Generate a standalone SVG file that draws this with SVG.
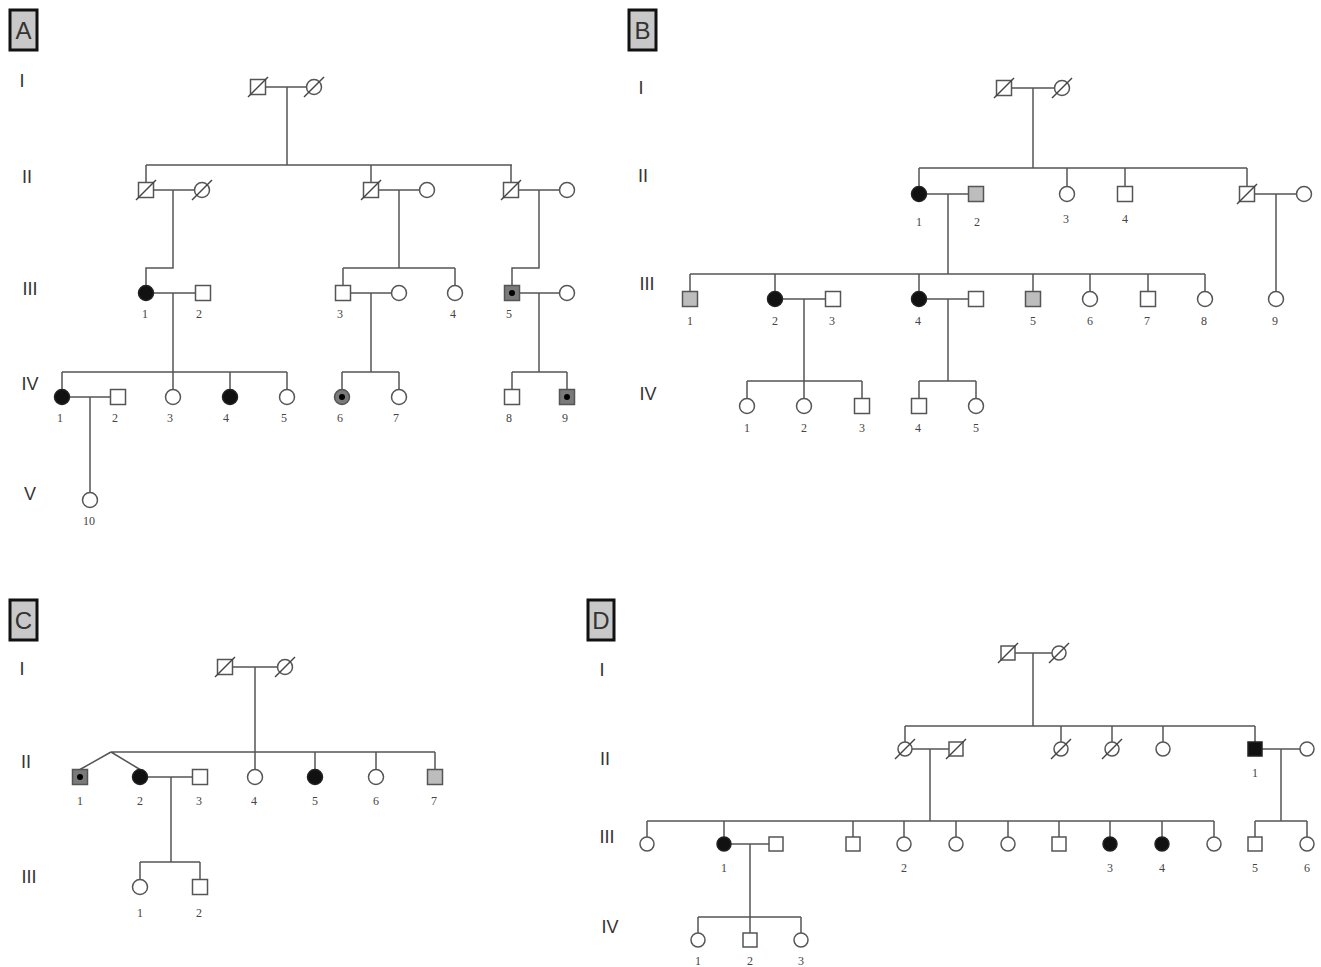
<svg xmlns="http://www.w3.org/2000/svg" width="1321" height="967" viewBox="0 0 1321 967">
<style>
.ln{stroke:#555;stroke-width:1.5;fill:none}
.s{fill:#fff;stroke:#555;stroke-width:1.5}
.aff{fill:#111;stroke:#222}
.car{fill:#bdbdbd}
.dk{fill:#7a7a7a}
.dot{fill:#000}
.dec{stroke:#444;stroke-width:1.4}
.num{font-family:"Liberation Serif",serif;font-size:12px;fill:#444;text-anchor:middle}
.gen{font-family:"Liberation Sans",sans-serif;font-size:18px;fill:#333;text-anchor:middle}
.box{fill:#c8c8c8;stroke:#111;stroke-width:3}
.let{font-family:"Liberation Sans",sans-serif;font-size:24px;fill:#333;text-anchor:middle}
</style>
<rect width="1321" height="967" fill="#fff"/>

<g id="connectors">
<!-- Panel A -->
<path class="ln" d="M266,87H306 M287,87V165 M146,165H512 M146,165V182.5 M371,165V182.5 M511,165V182.5"/>
<path class="ln" d="M153.5,190H194.5 M173,190V268H146V285.5"/>
<path class="ln" d="M378.5,190H419.5 M399,190V268 M343,268H455 M343,268V285.5 M455,268V285.5"/>
<path class="ln" d="M518.5,190H559.5 M539,190V268H512V285.5"/>
<path class="ln" d="M153.5,293H195.5 M173,293V389.5 M62,372H287 M62,372V389.5 M230,372V389.5 M287,372V389.5"/>
<path class="ln" d="M350.5,293H391.5 M371,293V372 M342,372H399 M342,372V389.5 M399,372V389.5"/>
<path class="ln" d="M519.5,293H559.5 M539,293V372 M512,372H567 M512,372V389.5 M567,372V389.5"/>
<path class="ln" d="M69.5,397H110.5 M90,397V492.5"/>
<!-- Panel B -->
<path class="ln" d="M1011.5,88H1054.5 M1033,88V168 M919,168H1247 M919,168V186.5 M1067,168V186.5 M1125,168V186.5 M1247,168V186.5"/>
<path class="ln" d="M926.5,194H968.5 M948,194V274 M690,274H1205 M690,274V291.5 M775,274V291.5 M919,274V291.5 M1033,274V291.5 M1090,274V291.5 M1148,274V291.5 M1205,274V291.5"/>
<path class="ln" d="M1254.5,194H1296.5 M1276,194V291.5"/>
<path class="ln" d="M782.5,299H825.5 M804,299V398.5 M747,381H862 M747,381V398.5 M862,381V398.5"/>
<path class="ln" d="M926.5,299H968.5 M948,299V381 M919,381H976 M919,381V398.5 M976,381V398.5"/>
<!-- Panel C -->
<path class="ln" d="M232.5,667H277.5 M255,667V769.5 M111,752H435 M315,752V769.5 M376,752V769.5 M435,752V769.5 M111,752L80,769.5 M111,752L140,769.5"/>
<path class="ln" d="M147.5,777H192.5 M171,777V862 M140,862H200 M140,862V879.5 M200,862V879.5"/>
<!-- Panel D -->
<path class="ln" d="M1015,653H1052 M1033,653V726 M905,726H1255 M905,726V742 M1061,726V742 M1112,726V742 M1163,726V742 M1255,726V742"/>
<path class="ln" d="M912,749H949 M930,749V821 M647,821H1214 M647,821V837 M724,821V837 M853,821V837 M904,821V837 M956,821V837 M1008,821V837 M1059,821V837 M1110,821V837 M1162,821V837 M1214,821V837"/>
<path class="ln" d="M1262,749H1300 M1281,749V821 M1255,821H1307 M1255,821V837 M1307,821V837"/>
<path class="ln" d="M731,844H769 M750,844V933 M698,917H801 M698,917V933 M801,917V933"/>
</g>

<!-- Panel labels and generations -->
<g id="labels">
<rect class="box" x="10" y="10" width="27" height="40"/><text class="let" x="23.5" y="39">A</text>
<rect class="box" x="629" y="10" width="27" height="40"/><text class="let" x="642.5" y="39">B</text>
<rect class="box" x="10" y="600" width="27" height="40"/><text class="let" x="23.5" y="629">C</text>
<rect class="box" x="588" y="600" width="26" height="40"/><text class="let" x="601" y="629">D</text>
<text class="gen" x="22" y="87">I</text><text class="gen" x="27" y="183">II</text><text class="gen" x="30" y="295">III</text><text class="gen" x="30" y="390">IV</text><text class="gen" x="30" y="500">V</text>
<text class="gen" x="641" y="94">I</text><text class="gen" x="643" y="182">II</text><text class="gen" x="647" y="290">III</text><text class="gen" x="648" y="400">IV</text>
<text class="gen" x="22" y="675">I</text><text class="gen" x="26" y="768">II</text><text class="gen" x="29" y="883">III</text>
<text class="gen" x="602" y="676">I</text><text class="gen" x="605" y="765">II</text><text class="gen" x="607" y="843">III</text><text class="gen" x="610" y="933">IV</text>
</g>

<!-- Panel A nodes -->
<g id="A-I-1"><rect class="s" x="250.5" y="79.5" width="15" height="15"/><line class="dec" x1="248" y1="97" x2="268" y2="77"/></g>
<g id="A-I-2"><circle class="s" cx="314" cy="87" r="7.5"/><line class="dec" x1="304" y1="97" x2="324" y2="77"/></g>
<g id="A-II-1"><rect class="s" x="138.5" y="182.5" width="15" height="15"/><line class="dec" x1="136" y1="200" x2="156" y2="180"/></g>
<g id="A-II-1w"><circle class="s" cx="202" cy="190" r="7.5"/><line class="dec" x1="192" y1="200" x2="212" y2="180"/></g>
<g id="A-II-2"><rect class="s" x="363.5" y="182.5" width="15" height="15"/><line class="dec" x1="361" y1="200" x2="381" y2="180"/></g>
<g id="A-II-2w"><circle class="s" cx="427" cy="190" r="7.5"/></g>
<g id="A-II-3"><rect class="s" x="503.5" y="182.5" width="15" height="15"/><line class="dec" x1="501" y1="200" x2="521" y2="180"/></g>
<g id="A-II-3w"><circle class="s" cx="567" cy="190" r="7.5"/></g>
<g id="A-III-1"><circle class="s aff" cx="146" cy="293" r="7.5"/><text class="num" x="145" y="318">1</text></g>
<g id="A-III-2"><rect class="s" x="195.5" y="285.5" width="15" height="15"/><text class="num" x="199" y="318">2</text></g>
<g id="A-III-3"><rect class="s" x="335.5" y="285.5" width="15" height="15"/><text class="num" x="340" y="318">3</text></g>
<g id="A-III-3w"><circle class="s" cx="399" cy="293" r="7.5"/></g>
<g id="A-III-4"><circle class="s" cx="455" cy="293" r="7.5"/><text class="num" x="453" y="318">4</text></g>
<g id="A-III-5"><rect class="s dk" x="504.5" y="285.5" width="15" height="15"/><circle class="dot" cx="512" cy="293" r="3"/><text class="num" x="509" y="318">5</text></g>
<g id="A-III-5w"><circle class="s" cx="567" cy="293" r="7.5"/></g>
<g id="A-IV-1"><circle class="s aff" cx="62" cy="397" r="7.5"/><text class="num" x="60" y="422">1</text></g>
<g id="A-IV-2"><rect class="s" x="110.5" y="389.5" width="15" height="15"/><text class="num" x="115" y="422">2</text></g>
<g id="A-IV-3"><circle class="s" cx="173" cy="397" r="7.5"/><text class="num" x="170" y="422">3</text></g>
<g id="A-IV-4"><circle class="s aff" cx="230" cy="397" r="7.5"/><text class="num" x="226" y="422">4</text></g>
<g id="A-IV-5"><circle class="s" cx="287" cy="397" r="7.5"/><text class="num" x="284" y="422">5</text></g>
<g id="A-IV-6"><circle class="s dk" cx="342" cy="397" r="7.5"/><circle class="dot" cx="342" cy="397" r="3"/><text class="num" x="340" y="422">6</text></g>
<g id="A-IV-7"><circle class="s" cx="399" cy="397" r="7.5"/><text class="num" x="396" y="422">7</text></g>
<g id="A-IV-8"><rect class="s" x="504.5" y="389.5" width="15" height="15"/><text class="num" x="509" y="422">8</text></g>
<g id="A-IV-9"><rect class="s dk" x="559.5" y="389.5" width="15" height="15"/><circle class="dot" cx="567" cy="397" r="3"/><text class="num" x="565" y="422">9</text></g>
<g id="A-V-10"><circle class="s" cx="90" cy="500" r="7.5"/><text class="num" x="89" y="525">10</text></g>

<!-- Panel B nodes -->
<g id="B-I-1"><rect class="s" x="996.5" y="80.5" width="15" height="15"/><line class="dec" x1="994" y1="98" x2="1014" y2="78"/></g>
<g id="B-I-2"><circle class="s" cx="1062" cy="88" r="7.5"/><line class="dec" x1="1052" y1="98" x2="1072" y2="78"/></g>
<g id="B-II-1"><circle class="s aff" cx="919" cy="194" r="7.5"/><text class="num" x="919" y="226">1</text></g>
<g id="B-II-2"><rect class="s car" x="968.5" y="186.5" width="15" height="15"/><text class="num" x="977" y="226">2</text></g>
<g id="B-II-3"><circle class="s" cx="1067" cy="194" r="7.5"/><text class="num" x="1066" y="223">3</text></g>
<g id="B-II-4"><rect class="s" x="1117.5" y="186.5" width="15" height="15"/><text class="num" x="1125" y="223">4</text></g>
<g id="B-II-5"><rect class="s" x="1239.5" y="186.5" width="15" height="15"/><line class="dec" x1="1237" y1="204" x2="1257" y2="184"/></g>
<g id="B-II-5w"><circle class="s" cx="1304" cy="194" r="7.5"/></g>
<g id="B-III-1"><rect class="s car" x="682.5" y="291.5" width="15" height="15"/><text class="num" x="690" y="325">1</text></g>
<g id="B-III-2"><circle class="s aff" cx="775" cy="299" r="7.5"/><text class="num" x="775" y="325">2</text></g>
<g id="B-III-3"><rect class="s" x="825.5" y="291.5" width="15" height="15"/><text class="num" x="832" y="325">3</text></g>
<g id="B-III-4"><circle class="s aff" cx="919" cy="299" r="7.5"/><text class="num" x="918" y="325">4</text></g>
<g id="B-III-4h"><rect class="s" x="968.5" y="291.5" width="15" height="15"/></g>
<g id="B-III-5"><rect class="s car" x="1025.5" y="291.5" width="15" height="15"/><text class="num" x="1033" y="325">5</text></g>
<g id="B-III-6"><circle class="s" cx="1090" cy="299" r="7.5"/><text class="num" x="1090" y="325">6</text></g>
<g id="B-III-7"><rect class="s" x="1140.5" y="291.5" width="15" height="15"/><text class="num" x="1147" y="325">7</text></g>
<g id="B-III-8"><circle class="s" cx="1205" cy="299" r="7.5"/><text class="num" x="1204" y="325">8</text></g>
<g id="B-III-9"><circle class="s" cx="1276" cy="299" r="7.5"/><text class="num" x="1275" y="325">9</text></g>
<g id="B-IV-1"><circle class="s" cx="747" cy="406" r="7.5"/><text class="num" x="747" y="432">1</text></g>
<g id="B-IV-2"><circle class="s" cx="804" cy="406" r="7.5"/><text class="num" x="804" y="432">2</text></g>
<g id="B-IV-3"><rect class="s" x="854.5" y="398.5" width="15" height="15"/><text class="num" x="862" y="432">3</text></g>
<g id="B-IV-4"><rect class="s" x="911.5" y="398.5" width="15" height="15"/><text class="num" x="918" y="432">4</text></g>
<g id="B-IV-5"><circle class="s" cx="976" cy="406" r="7.5"/><text class="num" x="976" y="432">5</text></g>

<!-- Panel C nodes -->
<g id="C-I-1"><rect class="s" x="217.5" y="659.5" width="15" height="15"/><line class="dec" x1="215" y1="677" x2="235" y2="657"/></g>
<g id="C-I-2"><circle class="s" cx="285" cy="667" r="7.5"/><line class="dec" x1="275" y1="677" x2="295" y2="657"/></g>
<g id="C-II-1"><rect class="s dk" x="72.5" y="769.5" width="15" height="15"/><circle class="dot" cx="80" cy="777" r="3"/><text class="num" x="80" y="805">1</text></g>
<g id="C-II-2"><circle class="s aff" cx="140" cy="777" r="7.5"/><text class="num" x="140" y="805">2</text></g>
<g id="C-II-3"><rect class="s" x="192.5" y="769.5" width="15" height="15"/><text class="num" x="199" y="805">3</text></g>
<g id="C-II-4"><circle class="s" cx="255" cy="777" r="7.5"/><text class="num" x="254" y="805">4</text></g>
<g id="C-II-5"><circle class="s aff" cx="315" cy="777" r="7.5"/><text class="num" x="315" y="805">5</text></g>
<g id="C-II-6"><circle class="s" cx="376" cy="777" r="7.5"/><text class="num" x="376" y="805">6</text></g>
<g id="C-II-7"><rect class="s car" x="427.5" y="769.5" width="15" height="15"/><text class="num" x="434" y="805">7</text></g>
<g id="C-III-1"><circle class="s" cx="140" cy="887" r="7.5"/><text class="num" x="140" y="917">1</text></g>
<g id="C-III-2"><rect class="s" x="192.5" y="879.5" width="15" height="15"/><text class="num" x="199" y="917">2</text></g>

<!-- Panel D nodes -->
<g id="D-I-1"><rect class="s" x="1001" y="646" width="14" height="14"/><line class="dec" x1="998" y1="663" x2="1018" y2="643"/></g>
<g id="D-I-2"><circle class="s" cx="1059" cy="653" r="7"/><line class="dec" x1="1049" y1="663" x2="1069" y2="643"/></g>
<g id="D-II-a"><circle class="s" cx="905" cy="749" r="7"/><line class="dec" x1="895" y1="759" x2="915" y2="739"/></g>
<g id="D-II-b"><rect class="s" x="949" y="742" width="14" height="14"/><line class="dec" x1="946" y1="759" x2="966" y2="739"/></g>
<g id="D-II-c"><circle class="s" cx="1061" cy="749" r="7"/><line class="dec" x1="1051" y1="759" x2="1071" y2="739"/></g>
<g id="D-II-d"><circle class="s" cx="1112" cy="749" r="7"/><line class="dec" x1="1102" y1="759" x2="1122" y2="739"/></g>
<g id="D-II-e"><circle class="s" cx="1163" cy="749" r="7"/></g>
<g id="D-II-1"><rect class="s aff" x="1248" y="742" width="14" height="14"/><text class="num" x="1255" y="777">1</text></g>
<g id="D-II-1w"><circle class="s" cx="1307" cy="749" r="7"/></g>
<g id="D-III-a"><circle class="s" cx="647" cy="844" r="7"/></g>
<g id="D-III-1"><circle class="s aff" cx="724" cy="844" r="7"/><text class="num" x="724" y="872">1</text></g>
<g id="D-III-1h"><rect class="s" x="769" y="837" width="14" height="14"/></g>
<g id="D-III-b"><rect class="s" x="846" y="837" width="14" height="14"/></g>
<g id="D-III-2"><circle class="s" cx="904" cy="844" r="7"/><text class="num" x="904" y="872">2</text></g>
<g id="D-III-c"><circle class="s" cx="956" cy="844" r="7"/></g>
<g id="D-III-d"><circle class="s" cx="1008" cy="844" r="7"/></g>
<g id="D-III-e"><rect class="s" x="1052" y="837" width="14" height="14"/></g>
<g id="D-III-3"><circle class="s aff" cx="1110" cy="844" r="7"/><text class="num" x="1110" y="872">3</text></g>
<g id="D-III-4"><circle class="s aff" cx="1162" cy="844" r="7"/><text class="num" x="1162" y="872">4</text></g>
<g id="D-III-f"><circle class="s" cx="1214" cy="844" r="7"/></g>
<g id="D-III-5"><rect class="s" x="1248" y="837" width="14" height="14"/><text class="num" x="1255" y="872">5</text></g>
<g id="D-III-6"><circle class="s" cx="1307" cy="844" r="7"/><text class="num" x="1307" y="872">6</text></g>
<g id="D-IV-1"><circle class="s" cx="698" cy="940" r="7"/><text class="num" x="698" y="965">1</text></g>
<g id="D-IV-2"><rect class="s" x="743" y="933" width="14" height="14"/><text class="num" x="750" y="965">2</text></g>
<g id="D-IV-3"><circle class="s" cx="801" cy="940" r="7"/><text class="num" x="801" y="965">3</text></g>
</svg>
